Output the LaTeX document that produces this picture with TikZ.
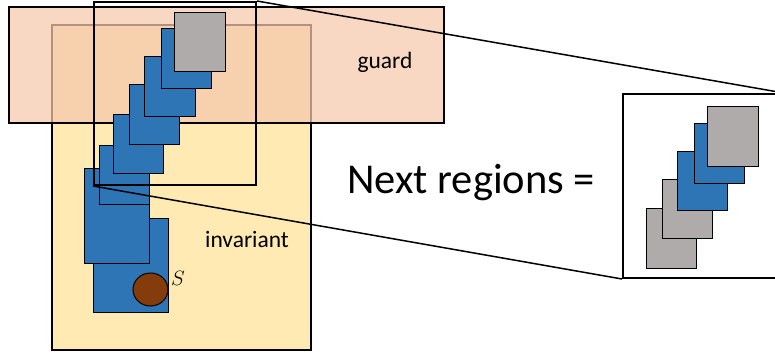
\documentclass[tikz,border=0pt]{standalone}
\usepackage{fontspec}
\usetikzlibrary{shapes.geometric}
\setmainfont{Carlito}
\begin{document}
\begin{tikzpicture}[x=1pt,y=-1pt,
  region/.style={draw=black,line width=1.6pt,inner sep=0pt,anchor=north west},
  cell/.style={draw=black,line width=1.4pt,inner sep=0pt,anchor=north west},
  bluecell/.style={cell,fill=cellblue},
  greycell/.style={cell,fill=cellgrey},
  lbl/.style={inner sep=0pt,font=\fontsize{23.5}{26}\selectfont},
  zoomline/.style={line width=1.5pt}]
\definecolor{cellblue}{HTML}{2E75B6}
\definecolor{cellgrey}{HTML}{AFABAB}
\definecolor{invyellow}{HTML}{FFEAB3}
\definecolor{guardpeach}{HTML}{F5C9AB}
\definecolor{stone}{HTML}{843C0C}
\useasboundingbox (0,0) rectangle (775,356);

% invariant and guard regions
\node[region,fill=invyellow,minimum width=259pt,minimum height=325pt] (inv) at (51,24) {};
\node[region,fill=guardpeach,fill opacity=0.73,minimum width=435pt,minimum height=116pt] (guard) at (8,6) {};
\node[lbl] (guardlbl) at (385,62) {guard};
\node[lbl] (invlbl) at (247,239) {invariant};

% chain of reachable cells, bottom to top
\node[bluecell,minimum width=75pt,minimum height=94pt] (c7) at (93,218) {};
\node[bluecell,minimum width=65pt,minimum height=95pt] (c6) at (84,168) {};
\node[bluecell,minimum width=50pt,minimum height=59pt] (c5) at (99,145) {};
\node[bluecell,minimum width=50pt,minimum height=59pt] (c4) at (113,114) {};
\node[bluecell,minimum width=50pt,minimum height=60pt] (c3) at (129,84) {};
\node[bluecell,minimum width=51pt,minimum height=60pt] (c2) at (144,56) {};
\node[bluecell,minimum width=50pt,minimum height=60pt] (c1) at (161,28) {};
\node[greycell,minimum width=51pt,minimum height=59pt] (c0) at (174,12) {};

% initial state
\node[draw=black,line width=1pt,fill=stone,ellipse,minimum width=35pt,minimum height=33pt,inner sep=0pt] (s) at (150.5,289.5) {};
\node[inner sep=0pt,font=\fontsize{20}{22}\selectfont] (slbl) at (178,278) {$S$};

% zoom window and its enlargement
\node[region,line width=2pt,minimum width=162pt,minimum height=183pt] (zoom) at (93,1) {};
\node[region,line width=2pt,fill=white,minimum width=160pt,minimum height=184pt] (next) at (622,93) {};
\draw[zoomline] (zoom.north east) -- (next.north east);
\draw[zoomline] (zoom.south west) -- (next.south west);

\node[inner sep=0pt,font=\fontsize{42.5}{44}\selectfont,anchor=base west] (nexttxt) at (347,193) {Next regions =};

\node[greycell,minimum width=50pt,minimum height=60pt] (n4) at (646,208) {};
\node[greycell,minimum width=50pt,minimum height=59pt] (n3) at (662,179) {};
\node[bluecell,minimum width=50pt,minimum height=59pt] (n2) at (677,151) {};
\node[bluecell,minimum width=50pt,minimum height=60pt] (n1) at (694,123) {};
\node[greycell,minimum width=51pt,minimum height=60pt] (n0) at (707,106) {};
\end{tikzpicture}
\end{document}
